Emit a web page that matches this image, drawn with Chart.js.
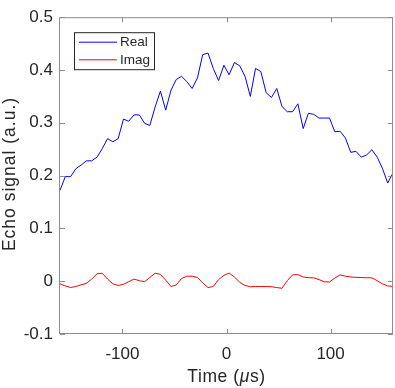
<!DOCTYPE html>
<html>
<head>
<meta charset="utf-8">
<script src="https://cdn.jsdelivr.net/npm/chart.js@4/dist/chart.umd.min.js"></script>
<style>
html,body{margin:0;padding:0;background:#fff;}
#wrap{width:395px;height:388px;position:relative;}
</style>
</head>
<body>
<div id="wrap"><canvas id="c" width="395" height="388"></canvas></div>
<script>
// ---- data ----
const timeUs = [-160.0,-154.9,-149.8,-144.8,-139.7,-134.6,-129.5,-124.4,-119.4,-114.3,-109.2,-104.1,-99.0,-94.0,-88.9,-83.8,
  -78.7,-73.7,-68.6,-63.5,-58.4,-53.3,-48.3,-43.2,-38.1,-33.0,-27.9,-22.9,-17.8,-12.7,-7.6,-2.5,
  2.5,7.6,12.7,17.8,22.9,27.9,33.0,38.1,43.2,48.3,53.3,58.4,63.5,68.6,73.7,78.7,
  83.8,88.9,94.0,99.0,104.1,109.2,114.3,119.4,124.4,129.5,134.6,139.7,144.8,149.8,154.9,160.0];
const realSignal = [0.172,0.198,0.198,0.213,0.220,0.228,0.228,0.235,0.251,0.270,0.264,0.270,0.307,0.303,0.315,0.315,
  0.299,0.295,0.330,0.360,0.324,0.362,0.382,0.388,0.378,0.365,0.385,0.429,0.432,0.403,0.380,0.409,
  0.391,0.414,0.408,0.388,0.350,0.403,0.397,0.357,0.348,0.365,0.331,0.321,0.321,0.336,0.289,0.318,
  0.316,0.309,0.309,0.309,0.283,0.284,0.271,0.244,0.246,0.235,0.239,0.249,0.235,0.214,0.186,0.205];
const imagSignal = [-0.005,-0.009,-0.012,-0.010,-0.007,-0.004,0.004,0.014,0.015,0.004,-0.005,-0.008,-0.006,-0.001,0.004,0.001,
  -0.001,0.007,0.015,0.013,0.002,-0.010,-0.007,0.005,0.0095,0.0095,0.007,-0.003,-0.012,-0.010,0.003,0.011,
  0.0155,0.008,-0.002,-0.008,-0.0105,-0.010,-0.010,-0.010,-0.0105,-0.012,-0.0135,0.001,0.012,0.0124,0.008,0.0066,
  0.0064,0.003,-0.001,-0.0015,0.006,0.012,0.0095,0.008,0.0073,0.007,0.0066,0.0064,0.001,-0.005,-0.009,-0.010];
const seriesNames = ['Real','Imag'];
const xTickValues = [-100, 0, 100];
const yTickValues = [-0.1, 0, 0.1, 0.2, 0.3, 0.4, 0.5];
const yTickLabels = ['-0.1','0','0.1','0.2','0.3','0.4','0.5'];
const xTitle = ['Time (', 'μ', 's)'];
const yTitle = 'Echo signal (a.u.)';

// ---- style ----
const FONT = '"Liberation Sans", Arial, Helvetica, sans-serif';
const TEXT_COLOR = '#262626';
const AXIS_COLOR = '#8c8c8c';
const TL = 5;
const colors = ['#0000ff', '#ff0000'];

const framePlugin = {
  id: 'frame',
  afterDraw(chart) {
    const {ctx, chartArea: a, scales: {x, y}} = chart;
    ctx.save();
    ctx.strokeStyle = AXIS_COLOR;
    ctx.lineWidth = 1;
    ctx.strokeRect(a.left - 0.5, a.top + 0.5, a.right - a.left, a.bottom - a.top - 1);
    ctx.beginPath();
    for (const v of xTickValues) {
      const px = Math.round(x.getPixelForValue(v)) + 0.5;
      ctx.moveTo(px, a.bottom); ctx.lineTo(px, a.bottom - TL);
      ctx.moveTo(px, a.top); ctx.lineTo(px, a.top + TL);
    }
    for (const v of yTickValues) {
      const py = Math.round(y.getPixelForValue(v)) + 0.5;
      ctx.moveTo(a.left, py); ctx.lineTo(a.left + TL, py);
      ctx.moveTo(a.right, py); ctx.lineTo(a.right - TL, py);
    }
    ctx.stroke();

    // legend box inside the axes
    const lx = a.left + 14, ly = a.top + 15, lw = 80, lh = 37;
    ctx.fillStyle = '#fff';
    ctx.fillRect(lx, ly, lw, lh);
    ctx.strokeStyle = '#262626';
    ctx.lineWidth = 1;
    ctx.strokeRect(lx + 0.5, ly + 0.5, lw, lh);
    ctx.font = '13.5px ' + FONT;
    ctx.textBaseline = 'middle';
    ctx.textAlign = 'left';
    seriesNames.forEach((name, i) => {
      const yy = ly + 10 + i * 17.6;
      ctx.strokeStyle = colors[i];
      ctx.beginPath();
      ctx.moveTo(lx + 5, yy); ctx.lineTo(lx + 43, yy);
      ctx.stroke();
      ctx.fillStyle = TEXT_COLOR;
      ctx.fillText(name, lx + 46, yy + 0.5);
    });

    // x title with italic mu
    ctx.fillStyle = TEXT_COLOR;
    ctx.textBaseline = 'alphabetic';
    ctx.letterSpacing = '0.6px';
    const fN = '17.5px ' + FONT, fI = 'italic 17.5px ' + FONT;
    ctx.font = fN; const w0 = ctx.measureText(xTitle[0]).width;
    ctx.font = fI; const w1 = ctx.measureText(xTitle[1]).width;
    ctx.font = fN; const w2 = ctx.measureText(xTitle[2]).width;
    let sx = (a.left + a.right) / 2 - (w0 + w1 + w2) / 2;
    const by = 382;
    ctx.font = fN; ctx.fillText(xTitle[0], sx, by); sx += w0;
    ctx.font = fI; ctx.fillText(xTitle[1], sx, by); sx += w1;
    ctx.font = fN; ctx.fillText(xTitle[2], sx, by);

    // y title
    ctx.save();
    ctx.translate(15, 174);
    ctx.rotate(-Math.PI / 2);
    ctx.letterSpacing = '1px';
    ctx.font = '17.5px ' + FONT;
    ctx.textAlign = 'center';
    ctx.fillText(yTitle, 0, 0);
    ctx.restore();
    ctx.restore();
  }
};

new Chart(document.getElementById('c'), {
  type: 'line',
  data: {
    datasets: [
      { label: seriesNames[0], data: timeUs.map((t, i) => ({x: t, y: realSignal[i]})),
        borderColor: colors[0], borderWidth: 1, pointRadius: 0, tension: 0, fill: false },
      { label: seriesNames[1], data: timeUs.map((t, i) => ({x: t, y: imagSignal[i]})),
        borderColor: colors[1], borderWidth: 1, pointRadius: 0, tension: 0, fill: false }
    ]
  },
  options: {
    responsive: false,
    animation: false,
    devicePixelRatio: 1,
    layout: { padding: { top: 7, right: 2, left: 0, bottom: 0 } },
    plugins: { legend: { display: false }, tooltip: { enabled: false } },
    scales: {
      x: {
        type: 'linear', min: -160, max: 160,
        afterBuildTicks: s => { s.ticks = xTickValues.map(v => ({value: v})); },
        afterFit: s => { s.height = 54; },
        grid: { display: false, drawTicks: false },
        border: { display: false },
        ticks: { padding: 10, color: TEXT_COLOR, font: { family: FONT, size: 17 }, maxRotation: 0,
                 callback: v => String(v) }
      },
      y: {
        type: 'linear', min: -0.1, max: 0.5,
        afterBuildTicks: s => { s.ticks = yTickValues.map(v => ({value: v})); },
        afterFit: s => { s.width = 60; },
        grid: { display: false, drawTicks: false },
        border: { display: false },
        ticks: { padding: 7, color: TEXT_COLOR, font: { family: FONT, size: 17 },
                 callback: (v, i) => yTickLabels[yTickValues.indexOf(v)] ?? String(v) }
      }
    }
  },
  plugins: [framePlugin]
});
</script>
</body>
</html>
